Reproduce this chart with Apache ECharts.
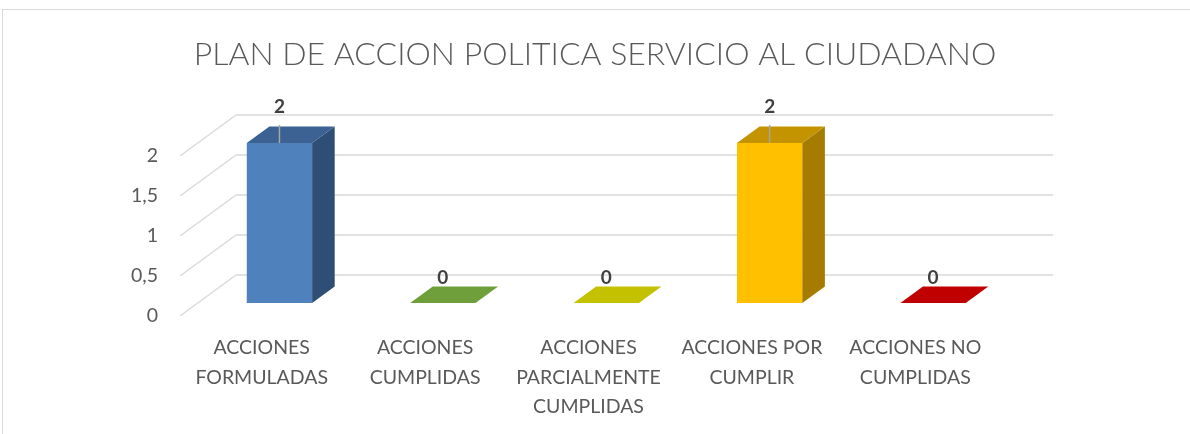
<!DOCTYPE html>
<html lang="es">
<head>
<meta charset="UTF-8">
<title>PLAN DE ACCION POLITICA SERVICIO AL CIUDADANO</title>
<script src="https://cdn.jsdelivr.net/npm/echarts@6/dist/echarts.min.js"></script>
<style>
  body { margin: 0; overflow: hidden; background: #fff; }
  #frame { position: absolute; left: 2px; top: 9px; width: 1300px; height: 600px; border: 1.5px solid #d9d9d9; }
  #main { position: absolute; left: 0; top: 0; width: 1190px; height: 434px; }
</style>
</head>
<body>
<div id="frame"></div>
<div id="main"></div>
<script>
// data
const categories = ['ACCIONES\nFORMULADAS', 'ACCIONES\nCUMPLIDAS', 'ACCIONES\nPARCIALMENTE\nCUMPLIDAS', 'ACCIONES POR\nCUMPLIR', 'ACCIONES NO\nCUMPLIDAS'];
const values = [2, 0, 0, 2, 0];
const yTicks = [0, 0.5, 1, 1.5, 2];

// colours of each bar: front, top, side
const frontColors = ['#4F81BD', '#70A03A', '#C5C300', '#FFC000', '#C00000'];
const topColors = ['#3B6292', '#6F9F3A', '#C4C200', '#C49300', '#C00000'];
const sideColors = ['#2F4E76', '#557A2C', '#999700', '#A67C00', '#900000'];

// depth of the fake 3d box (back wall offset from the front plane)
const DX = 56, DY = -41;
const F0 = 0.317, F1 = 0.72; // front and back of the bars, as part of the depth
const FONT = 'Lato';

let chart = echarts.init(document.getElementById('main'));

let option = {
  animation: false,
  title: {
    text: 'PLAN DE ACCION POLITICA SERVICIO AL CIUDADANO',
    left: 'center', top: 34,
    textStyle: { fontFamily: FONT, fontWeight: 300, fontSize: 32, color: '#595959' }
  },
  grid: [
    { left: 180 + DX, top: 156 + DY, width: 817, height: 160 }, // back wall
    { left: 180, top: 156, width: 817, height: 160 }             // front plane
  ],
  xAxis: [
    { gridIndex: 0, type: 'category', data: categories, show: false },
    {
      gridIndex: 1, type: 'category', data: categories,
      axisLine: { show: false }, axisTick: { show: false },
      axisLabel: { interval: 0, margin: 17, fontFamily: FONT, fontSize: 19.5, lineHeight: 29.5, color: '#595959' }
    }
  ],
  yAxis: [
    {
      gridIndex: 0, type: 'value', min: 0, max: 2, interval: 0.5,
      axisLabel: { show: false }, axisLine: { show: false }, axisTick: { show: false },
      splitLine: { lineStyle: { color: '#d9d9d9', width: 1.5 } }
    },
    {
      gridIndex: 1, type: 'value', min: 0, max: 2, interval: 0.5,
      axisLine: { show: false }, axisTick: { show: false }, splitLine: { show: false },
      axisLabel: {
        margin: 22, fontFamily: FONT, fontSize: 19.5, color: '#595959',
        formatter: v => String(v).replace('.', ',')
      }
    }
  ],
  series: [
    {
      // slanted lines of the left wall
      type: 'custom', xAxisIndex: 1, yAxisIndex: 1, silent: true,
      data: yTicks.map(v => [0, v]),
      renderItem: function (params, api) {
        let p = api.coord([0, api.value(1)]);
        let x0 = params.coordSys.x;
        return {
          type: 'line',
          shape: { x1: x0, y1: p[1], x2: x0 + DX, y2: p[1] + DY },
          style: { stroke: '#d9d9d9', lineWidth: 1.5 }
        };
      }
    },
    {
      type: 'custom', xAxisIndex: 1, yAxisIndex: 1,
      data: values.map((v, i) => [i, v]),
      renderItem: function (params, api) {
        let i = params.dataIndex;
        let v = api.value(1);
        let base = api.coord([i, 0]);
        let top = api.coord([i, v]);
        let w = api.size([1, 0])[0] * 0.4;
        let ox = F0 * DX, oy = F0 * DY;
        let bx = (F1 - F0) * DX, by = (F1 - F0) * DY;
        let xl = base[0] - w / 2 + ox, xr = base[0] + w / 2 + ox;
        let yb = base[1] + oy, yt = top[1] + oy;
        let children = [];
        if (v > 0) {
          children.push({ type: 'rect', shape: { x: xl, y: yt, width: w, height: yb - yt }, style: { fill: frontColors[i] } });
          children.push({ type: 'polygon', shape: { points: [[xr, yt], [xr + bx, yt + by], [xr + bx, yb + by], [xr, yb]] }, style: { fill: sideColors[i] } });
        }
        children.push({ type: 'polygon', shape: { points: [[xl, yt], [xr, yt], [xr + bx, yt + by], [xl + bx, yt + by]] }, style: { fill: topColors[i] } });
        let cx = base[0] + ox;
        let ly = v > 0 ? yt - 36 : yt - 25;
        if (v > 0) {
          children.push({ type: 'line', shape: { x1: cx, y1: yt - 18, x2: cx, y2: yt }, style: { stroke: '#a6a6a6', lineWidth: 1.5 } });
        }
        children.push({
          type: 'text',
          style: {
            text: String(v), x: cx, y: ly, align: 'center', verticalAlign: 'middle',
            fontFamily: FONT, fontSize: 19, fontWeight: 'bold', fill: '#404040'
          }
        });
        return { type: 'group', children: children };
      }
    }
  ]
};

chart.setOption(option);
</script>
</body>
</html>
